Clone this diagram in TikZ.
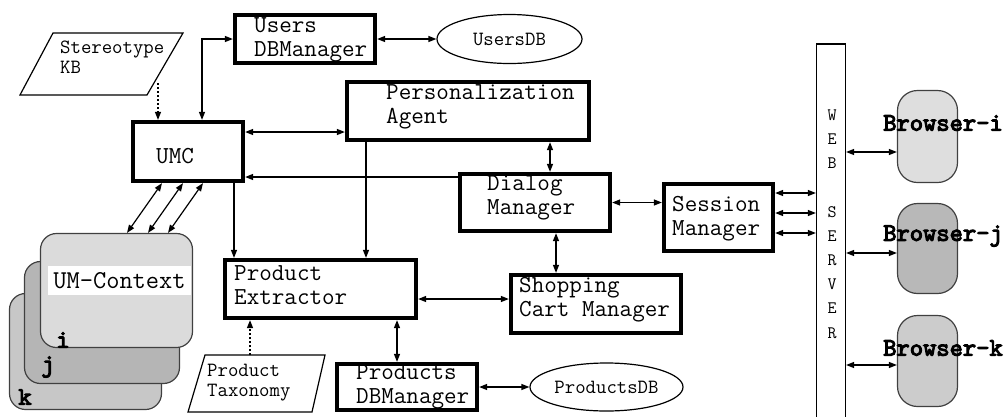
\documentclass[tikz,border=0pt]{standalone}
\usepackage{fontspec}
\newfontfamily\boldtt{lmmono10-regular.otf}[FakeBold=4]
\usetikzlibrary{arrows.meta,shapes.geometric,positioning}

\begin{document}
\begin{tikzpicture}[x=1pt,y=-1pt]

  % Definitions
  \tikzstyle{box} = [rectangle, draw=black, line width=4.3pt, inner sep=0pt]
  \tikzstyle{txt} = [anchor=west, align=left, inner sep=0pt, font=\fontsize{24.4}{24}\selectfont\ttfamily]
  \tikzstyle{small} = [inner sep=0pt, align=left, font=\fontsize{20.2}{20}\selectfont\ttfamily]
  \tikzstyle{db} = [ellipse, draw=black, line width=1.2pt, inner sep=0pt, font=\fontsize{20.2}{20}\selectfont\ttfamily]
  \tikzstyle{card} = [rectangle, rounded corners=16pt, draw=black!75, line width=1.2pt]
  \tikzstyle{browser} = [rectangle, rounded corners=20pt, draw=black!75, line width=1.2pt, minimum width=60pt]
  \tikzstyle{bold} = [inner sep=0pt, font=\fontsize{25.3}{24}\selectfont\boldtt]
  \tikzstyle{arrow} = [line width=1.2pt, -{Triangle[length=8pt,width=6pt]}]
  \tikzstyle{dblarrow} = [line width=1.2pt, {Triangle[length=8pt,width=6pt]}-{Triangle[length=8pt,width=6pt]}]
  \tikzstyle{dotarrow} = [arrow, dash pattern=on 2pt off 2pt]

  \useasboundingbox (0,0) rectangle (1007,416);

  % components
  \node (umc) [box, minimum width=110pt, minimum height=59pt] at (188,151.5) {};
  \node (usersdbm) [box, minimum width=140pt, minimum height=48pt] at (305,39) {};
  \node (pa) [box, minimum width=242pt, minimum height=58pt] at (468,111) {};
  \node (dm) [box, minimum width=150pt, minimum height=57pt] at (535,202.5) {};
  \node (sm) [box, minimum width=109pt, minimum height=67pt] at (718.5,217.5) {};
  \node (pe) [box, minimum width=191pt, minimum height=58pt] at (320.5,289) {};
  \node (scm) [box, minimum width=170pt, minimum height=58pt] at (596,304) {};
  \node (pdbm) [box, minimum width=140pt, minimum height=46pt] at (407,387) {};

  \node (umctxt) [txt] at (156,156) {UMC};
  \node (usersdbmtxt) [txt] at (254,40) {Users\\DBManager};
  \node (patxt) [txt] at (386,106.5) {Personalization\\Agent};
  \node (dmtxt) [txt] at (487,197.5) {Dialog\\Manager};
  \node (smtxt) [txt] at (672,219) {Session\\Manager};
  \node (petxt) [txt] at (234,285) {Product\\Extractor};
  \node (scmtxt) [txt] at (519,299.5) {Shopping\\Cart Manager};
  \node (pdbmtxt) [txt] at (356,387) {Products\\DBManager};

  % databases
  \node (usersdb) [db, minimum width=145pt, minimum height=49pt] at (509.5,39) {UsersDB};
  \node (pdb) [db, minimum width=153pt, minimum height=48pt] at (606.5,387) {ProductsDB};

  % knowledge sources
  \draw [line width=1.2pt] (53,33) -- (183,33) -- (147,95) -- (20,95) -- cycle;
  \node (kb) [small, anchor=west] at (60,57) {Stereotype\\KB};
  \draw [line width=1.2pt] (205,355) -- (325,355) -- (312,412) -- (188,412) -- cycle;
  \node (tax) [small, anchor=west] at (207,383) {Product\\Taxonomy};
  \coordinate (kbfoot) at (158,83);
  \coordinate (taxtop) at (250,355);

  % UM-Context stack
  \node (umk) [card, fill=black!22, minimum width=152pt, minimum height=116pt] at (85.5,351.5) {};
  \node (umj) [card, fill=black!29, minimum width=155pt, minimum height=122pt] at (102,322.5) {};
  \node (umi) [card, fill=black!14, minimum width=152pt, minimum height=114pt] at (116.5,290.5) {};
  \node (umlabel) [fill=white, inner xsep=5pt, minimum height=29pt, font=\fontsize{25.7}{24}\selectfont\ttfamily] at (119.5,280.5) {UM-Context};
  \node (ltk) [bold] at (25,397) {k};
  \node (ltj) [bold] at (48,367) {j};
  \node (lti) [bold] at (63,340) {i};

  % web server and browsers
  \node (ws) [rectangle, draw=black, line width=1.2pt, minimum width=29pt, minimum height=380pt] at (831,234) {};
  \node (wstxt) [inner sep=0pt, align=center, font=\fontsize{17.5}{24.2}\selectfont\ttfamily] at (832,224) {W\\E\\B\\[24.2pt]S\\E\\R\\V\\E\\R};
  \node (bri) [browser, fill=black!13, minimum height=92pt] at (927.5,136.5) {};
  \node (brj) [browser, fill=black!28, minimum height=90pt] at (927.5,248.5) {};
  \node (brk) [browser, fill=black!20, minimum height=91pt] at (927.5,361) {};
  \node (britxt) [bold] at (943,123) {Browser-i};
  \node (brjtxt) [bold] at (943,236) {Browser-j};
  \node (brktxt) [bold] at (943,348) {Browser-k};

  % connections
  \draw [dotarrow] (kbfoot) -- (kbfoot |- umc.north);
  \draw [dotarrow] (taxtop) -- (taxtop |- pe.south);
  \draw [dblarrow] ([xshift=14pt]umc.north) |- (usersdbm.west);
  \draw [dblarrow] (usersdbm.east) -- (usersdb.west);
  \draw [dblarrow] ([yshift=19.5pt]umc.east) -- ([yshift=-21pt]pa.west);
  \draw [arrow] ([yshift=25.5pt]dm.west) -- ([yshift=-25.5pt]umc.east);
  \draw [arrow] ([xshift=46pt]umc.south) -- ([xshift=-86.5pt]pe.north);
  \draw [arrow] ([xshift=-102pt]pa.south) -- ([xshift=45.5pt]pe.north);
  \draw [dblarrow] ([xshift=82pt]pa.south) -- ([xshift=15pt]dm.north);
  \draw [dblarrow] (dm.east) -- (dm.east -| sm.west);
  \draw [dblarrow] ([xshift=21pt]dm.south) -- ([xshift=-40pt]scm.north);
  \draw [dblarrow] ([yshift=-10pt]pe.east) -- ([yshift=5pt]scm.west);
  \draw [dblarrow] ([xshift=76.5pt]pe.south) -- ([xshift=-10pt]pdbm.north);
  \draw [dblarrow] (pdbm.east) -- (pdb.west);
  \foreach \a/\b in {10.5/-26, 31.5/-5, 51.5/15}
    \draw [dblarrow] ([xshift=\a pt]umi.north) -- ([xshift=\b pt]umc.south);
  \foreach \a/\b in {24.5/41, 4.5/21, -15.5/1}
    \draw [dblarrow] ([yshift=\a pt]sm.east) -- ([yshift=\b pt]ws.west);
  \draw [dblarrow] ([yshift=82pt]ws.east) -- ([yshift=-15.5pt]bri.west);
  \draw [dblarrow] ([yshift=-19pt]ws.east) -- ([yshift=-4.5pt]brj.west);
  \draw [dblarrow] ([yshift=-131pt]ws.east) -- ([yshift=-4pt]brk.west);

\end{tikzpicture}
\end{document}
